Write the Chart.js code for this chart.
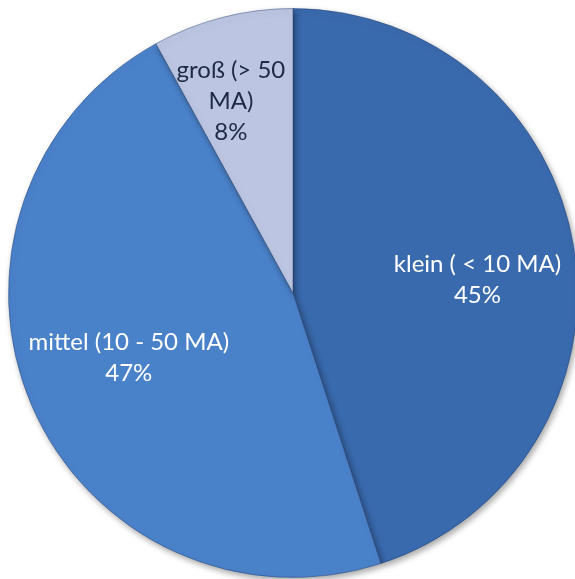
<!DOCTYPE html>
<html lang="de">
<head>
  <meta charset="UTF-8">
  <title>Unternehmensgröße</title>
  <script src="https://cdn.jsdelivr.net/npm/chart.js"></script>
  <style>
    html, body { margin: 0; padding: 0; background: #fff; overflow: hidden; }
    #pie { display: block; }
  </style>
</head>
<body>
  <canvas id="pie" width="600" height="600"></canvas>

  <script>
    // Anteile nach Unternehmensgröße
    const labels = ['klein ( < 10 MA)', 'mittel (10 - 50 MA)', 'groß (> 50 MA)'];
    const labelLines = [['klein ( < 10 MA)'], ['mittel (10 - 50 MA)'], ['groß (> 50', 'MA)']];
    const shares = [45, 47, 8];

    const baseColors = ['#3a6aae', '#4a82ca', '#bcc6e2'];
    const edgeColors = ['#2f5b99', '#3f74b8', '#a9b5d6'];
    const textColors = ['#ffffff', '#ffffff', '#1f2a44'];
    // Lage der Beschriftung: Anteil vom Radius, Winkelversatz in Grad
    const labelRadius = [0.65, 0.62, 0.71];
    const labelShift = [5, 2, -3.5];

    // radialer Verlauf je Segment
    function sliceFill(ctx) {
      const chart = ctx.chart;
      const arc = chart.getDatasetMeta(0).data[ctx.dataIndex];
      if (!arc || !arc.outerRadius) return baseColors[ctx.dataIndex];
      const g = chart.ctx.createRadialGradient(arc.x, arc.y, 0, arc.x, arc.y, arc.outerRadius);
      g.addColorStop(0, baseColors[ctx.dataIndex]);
      g.addColorStop(0.85, baseColors[ctx.dataIndex]);
      g.addColorStop(1, edgeColors[ctx.dataIndex]);
      return g;
    }

    const shadowPlugin = {
      id: 'pieShadow',
      beforeDatasetsDraw(chart) {
        const c = chart.ctx;
        c.save();
        c.shadowColor = 'rgba(0,0,0,0.35)';
        c.shadowBlur = 6;
        c.shadowOffsetX = 2;
        c.shadowOffsetY = 3;
      },
      afterDatasetsDraw(chart) {
        chart.ctx.restore();
      }
    };

    const sliceLabels = {
      id: 'sliceLabels',
      afterDatasetsDraw(chart) {
        const c = chart.ctx;
        const meta = chart.getDatasetMeta(0);
        c.save();
        c.font = '24px Lato, "Open Sans", sans-serif';
        c.textAlign = 'center';
        c.textBaseline = 'middle';
        meta.data.forEach((arc, i) => {
          const mid = (arc.startAngle + arc.endAngle) / 2 + labelShift[i] * Math.PI / 180;
          const r = arc.outerRadius * labelRadius[i];
          const x = arc.x + Math.cos(mid) * r;
          const y = arc.y + Math.sin(mid) * r;
          const lines = labelLines[i].concat([shares[i] + '%']);
          const lh = 31;
          const top = y - (lines.length - 1) * lh / 2;
          c.fillStyle = textColors[i];
          lines.forEach((t, k) => c.fillText(t, x, top + k * lh));
        });
        c.restore();
      }
    };

    new Chart(document.getElementById('pie'), {
      type: 'pie',
      data: {
        labels: labels,
        datasets: [{
          data: shares,
          backgroundColor: sliceFill,
          borderColor: 'rgba(30,60,110,0.45)',
          borderWidth: 1
        }]
      },
      options: {
        responsive: false,
        animation: false,
        layout: { padding: { left: 8, top: 8, right: 22, bottom: 22 } },
        plugins: {
          legend: { display: false },
          tooltip: { enabled: false }
        }
      },
      plugins: [shadowPlugin, sliceLabels]
    });
  </script>
</body>
</html>
